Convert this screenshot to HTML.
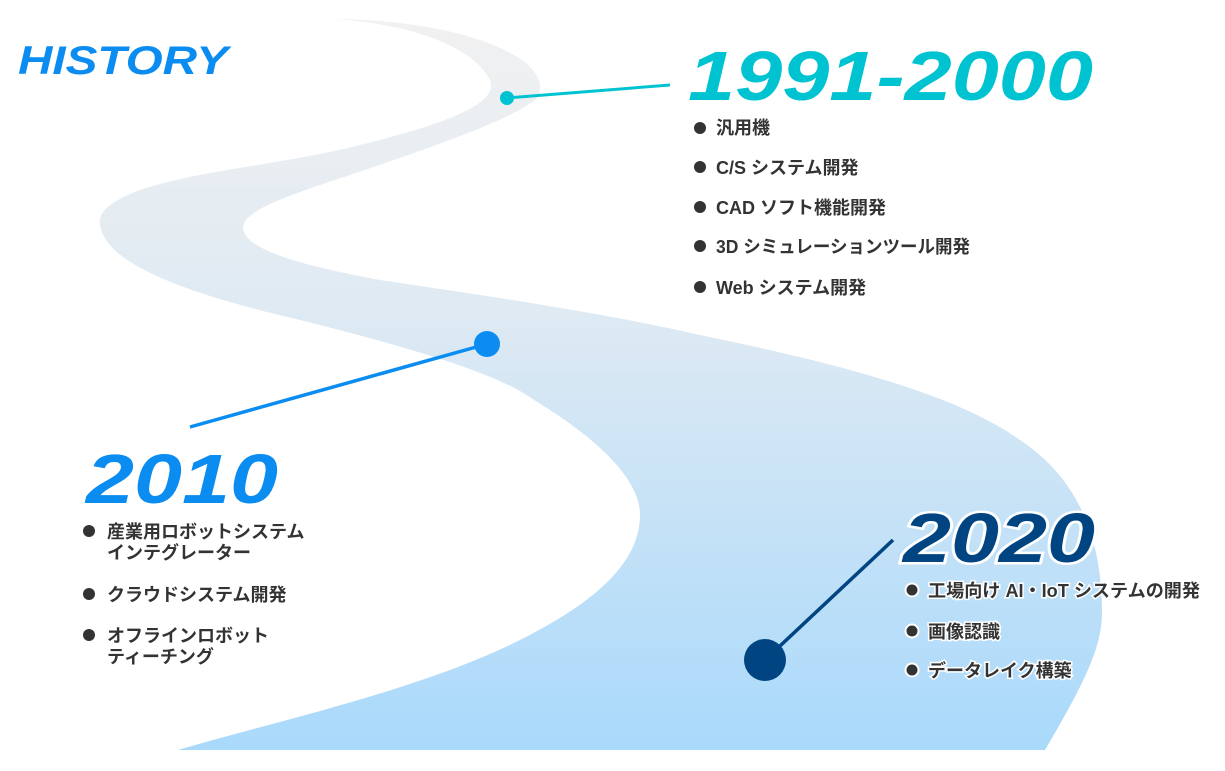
<!DOCTYPE html>
<html><head><meta charset="utf-8"><style>
html,body{margin:0;padding:0;background:#fff;}
svg{display:block;}
.t{font-family:"Liberation Sans","Noto Sans CJK JP",sans-serif;font-weight:bold;font-size:18px;fill:#333;}
.h{font-family:"Liberation Sans",sans-serif;font-weight:bold;font-style:italic;}
</style></head><body>
<svg width="1225" height="771" viewBox="0 0 1225 771" xmlns="http://www.w3.org/2000/svg">
<defs>
<linearGradient id="g" x1="0" y1="0" x2="0" y2="1">
<stop offset="0" stop-color="#f1f1f1"/>
<stop offset="0.4" stop-color="#dfeaf3"/>
<stop offset="1" stop-color="#a9d9fb"/>
</linearGradient>
</defs>
<path fill="url(#g)" d="M335,19 C420,25 475,50 490,80 C500,105 440,125 360,145 C280,165 200,170 140,190 C105,203 98,215 100,225 C105,260 170,290 300,320 C420,350 500,375 534,400 C600,440 640,480 640,515 C640,560 600,600 520,640 C420,690 280,720 178,750 L1045,750 C1080,690 1102,650 1102,613 C1102,540 1080,480 1020,440 C950,390 820,360 700,335 C600,312 480,295 380,280 C300,265 245,250 243,228 C243,210 290,195 350,175 C430,148 510,120 535,100 C545,90 540,75 525,62 C480,30 400,20 335,19 Z"/>
<text class="h" x="18" y="74" font-size="40" fill="#0a8cf0" textLength="210" lengthAdjust="spacingAndGlyphs">HISTORY</text>
<line x1="507" y1="98" x2="670" y2="85" stroke="#00c3d2" stroke-width="3"/>
<circle cx="507" cy="98" r="7" fill="#00c3d2"/>
<text class="h" x="688" y="100" font-size="70" fill="#00c3d2" textLength="405" lengthAdjust="spacingAndGlyphs">1991-2000</text>
<g fill="#333">
<circle cx="700" cy="128" r="6"/><circle cx="700" cy="167" r="6"/><circle cx="700" cy="207" r="6"/><circle cx="700" cy="246" r="6"/><circle cx="700" cy="287" r="6"/>
<circle cx="89" cy="531" r="6"/><circle cx="89" cy="594" r="6"/><circle cx="89" cy="635" r="6"/>
</g>
<g class="t">
<text x="716" y="134">汎用機</text>
<text x="716" y="174">C/S システム開発</text>
<text x="716" y="214">CAD ソフト機能開発</text>
<text x="716" y="253" textLength="254" lengthAdjust="spacingAndGlyphs">3D シミュレーションツール開発</text>
<text x="716" y="294">Web システム開発</text>
<text x="107" y="538">産業用ロボットシステム</text>
<text x="107" y="559">インテグレーター</text>
<text x="107" y="601">クラウドシステム開発</text>
<text x="107" y="642">オフラインロボット</text>
<text x="107" y="663">ティーチング</text>
</g>
<line x1="487" y1="344" x2="190" y2="427" stroke="#0a8cf0" stroke-width="3.5"/>
<circle cx="487" cy="344" r="13" fill="#0a8cf0"/>
<text class="h" x="86" y="503" font-size="70" fill="#0a8cf0" textLength="192" lengthAdjust="spacingAndGlyphs">2010</text>
<line x1="765" y1="660" x2="893" y2="540" stroke="#004482" stroke-width="3.5"/>
<circle cx="765" cy="660" r="21" fill="#004482"/>
<text class="h" x="903" y="562" font-size="70" fill="#004482" stroke="#fff" stroke-width="5" paint-order="stroke" textLength="192" lengthAdjust="spacingAndGlyphs">2020</text>
<g fill="#333" stroke="#fff" stroke-width="2">
<circle cx="912" cy="590" r="6.5"/><circle cx="912" cy="631" r="6.5"/><circle cx="912" cy="670" r="6.5"/>
</g>
<g class="t" stroke="#fff" stroke-width="3" paint-order="stroke">
<text x="928" y="597" textLength="272" lengthAdjust="spacingAndGlyphs">工場向け AI・IoT システムの開発</text>
<text x="928" y="638">画像認識</text>
<text x="928" y="677">データレイク構築</text>
</g>
</svg>
</body></html>
